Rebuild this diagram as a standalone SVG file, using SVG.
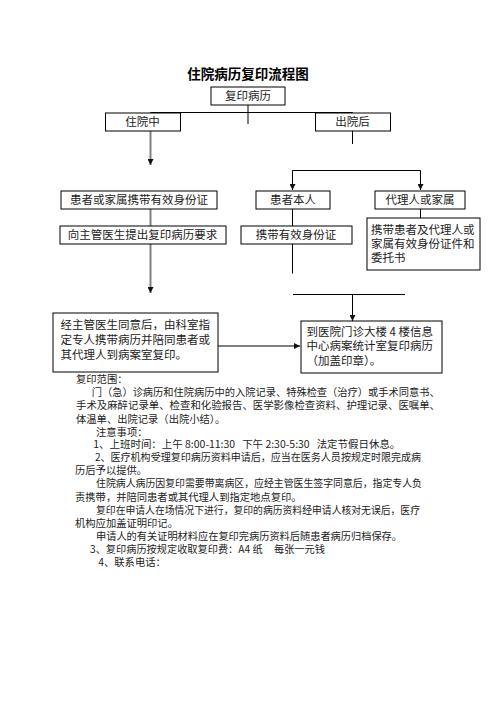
<svg xmlns="http://www.w3.org/2000/svg" width="496" height="702" viewBox="0 0 496 702">
  <defs>
    <marker id="ah" markerUnits="userSpaceOnUse" markerWidth="6" markerHeight="6" refX="6" refY="3" orient="auto">
      <path d="M0,0 L6,3 L0,6 z" fill="#111"/>
    </marker>
    <style>
      .box { fill: #fff; stroke: #000; stroke-width: 1; }
      .t { font-family: "Noto Sans CJK SC", "Liberation Sans", sans-serif; font-size: 11.5px; fill: #222; }
      .c { text-anchor: middle; }
      .body { font-family: "Noto Sans CJK SC", "Liberation Sans", sans-serif; font-size: 10.3px; fill: #222; }
      .ln { stroke: #000; stroke-width: 1; fill: none; }
      .gl { stroke: #808080; stroke-width: 2; fill: none; }
      .title { font-family: "Noto Sans CJK SC", "Liberation Sans", sans-serif; font-size: 13.5px; font-weight: bold; fill: #000; text-anchor: middle; }
    </style>
  </defs>
  <rect width="496" height="702" fill="#fff"/>

  <text class="title" x="248" y="79">住院病历复印流程图</text>

  <g id="connectors">
    <line class="ln" x1="248" y1="105" x2="248" y2="124"/>
    <line class="ln" x1="150" y1="112.5" x2="352.5" y2="112.5"/>
    <line class="gl" x1="150.5" y1="112.5" x2="150.5" y2="124" marker-end="url(#ah)"/>
    <line class="gl" x1="150.5" y1="131" x2="150.5" y2="165" marker-end="url(#ah)"/>
    <line class="ln" x1="352.5" y1="112.5" x2="352.5" y2="124" marker-end="url(#ah)"/>
    <line class="ln" x1="352.5" y1="131" x2="352.5" y2="144"/>
    <polyline class="ln" points="292.5,190 292.5,170.5 420.5,170.5 420.5,190"/>
    <line class="ln" x1="292.5" y1="170.5" x2="292.5" y2="190" marker-end="url(#ah)"/>
    <line class="ln" x1="420.5" y1="170.5" x2="420.5" y2="190" marker-end="url(#ah)"/>
    <line class="gl" x1="150.5" y1="209" x2="150.5" y2="293" marker-end="url(#ah)"/>
    <line class="ln" x1="292.5" y1="209" x2="292.5" y2="234" marker-end="url(#ah)"/>
    <line class="ln" x1="292.5" y1="234" x2="292.5" y2="273.5"/>
    <line class="ln" x1="420.5" y1="209" x2="420.5" y2="226" marker-end="url(#ah)"/>
    <line class="ln" x1="405.5" y1="250" x2="405.5" y2="263"/>
    <line class="ln" x1="293" y1="294.5" x2="405" y2="294.5"/>
    <line class="ln" x1="352.5" y1="294.5" x2="352.5" y2="321" marker-end="url(#ah)"/>
    <line class="gl" x1="218" y1="346" x2="300" y2="346" marker-end="url(#ah)"/>
  </g>

  <g id="n-copy">
    <rect class="box" x="211" y="87" width="74" height="18"/>
    <text class="t c" x="248" y="100.4">复印病历</text>
  </g>
  <g id="n-inpatient">
    <rect class="box" x="105.5" y="113" width="75" height="18"/>
    <text class="t c" x="142.5" y="126.4">住院中</text>
  </g>
  <g id="n-discharged">
    <rect class="box" x="315.5" y="113" width="75" height="18"/>
    <text class="t c" x="352.5" y="126.4">出院后</text>
  </g>
  <g id="n-carry-id">
    <rect class="box" x="61" y="191" width="156" height="18"/>
    <text class="t c" x="139" y="204.4">患者或家属携带有效身份证</text>
  </g>
  <g id="n-request">
    <rect class="box" x="60" y="226" width="166" height="18"/>
    <text class="t c" x="142.5" y="239.4">向主管医生提出复印病历要求</text>
  </g>
  <g id="n-self">
    <rect class="box" x="256" y="191" width="74" height="18"/>
    <text class="t c" x="293" y="204.4">患者本人</text>
  </g>
  <g id="n-self-id">
    <rect class="box" x="241" y="226" width="111" height="18"/>
    <text class="t c" x="296" y="239.4">携带有效身份证</text>
  </g>
  <g id="n-agent">
    <rect class="box" x="375" y="191" width="90" height="18"/>
    <text class="t c" x="420" y="204.4">代理人或家属</text>
  </g>
  <g id="n-agent-docs">
    <rect class="box" x="367" y="218" width="113" height="52"/>
    <text class="t" x="371" y="234.4">携带患者及代理人或</text>
    <text class="t" x="371" y="248.4">家属有效身份证件和</text>
    <text class="t" x="371" y="262.4">委托书</text>
  </g>
  <g id="n-doctor">
    <rect class="box" x="53" y="313" width="165" height="59"/>
    <text class="t" x="60.5" y="329">经主管医生同意后，由科室指</text>
    <text class="t" x="60.5" y="344">定专人携带病历并陪同患者或</text>
    <text class="t" x="60.5" y="358.5">其代理人到病案室复印。</text>
  </g>
  <g id="n-office">
    <rect class="box" x="301" y="321" width="141" height="52"/>
    <text class="t" x="306.5" y="336">到医院门诊大楼 4 楼信息</text>
    <text class="t" x="306.5" y="350.2">中心病案统计室复印病历</text>
    <text class="t" x="306.5" y="365.2">（加盖印章）。</text>
  </g>

  <g id="notes">
    <text class="body" x="76" y="383.3">复印范围：</text>
    <text class="body" x="91.7" y="396.4" textLength="348" lengthAdjust="spacingAndGlyphs">门（急）诊病历和住院病历中的入院记录、特殊检查（治疗）或手术同意书、</text>
    <text class="body" x="76" y="409.4" textLength="364" lengthAdjust="spacingAndGlyphs">手术及麻醉记录单、检查和化验报告、医学影像检查资料、护理记录、医嘱单、</text>
    <text class="body" x="76" y="422.5">体温单、出院记录（出院小结）。</text>
    <text class="body" x="96" y="435.5">注意事项：</text>
    <text class="body" x="93.3" y="447.8" textLength="307" lengthAdjust="spacingAndGlyphs" xml:space="preserve">1、上班时间：上午 8:00-11:30   下午 2:30-5:30   法定节假日休息。</text>
    <text class="body" x="95" y="460.8" textLength="326" lengthAdjust="spacingAndGlyphs">2、医疗机构受理复印病历资料申请后，应当在医务人员按规定时限完成病</text>
    <text class="body" x="75" y="473.9">历后予以提供。</text>
    <text class="body" x="96" y="487.3" textLength="326" lengthAdjust="spacingAndGlyphs">住院病人病历因复印需要带离病区，应经主管医生签字同意后，指定专人负</text>
    <text class="body" x="75" y="500.5">责携带，并陪同患者或其代理人到指定地点复印。</text>
    <text class="body" x="96" y="513.8" textLength="324" lengthAdjust="spacingAndGlyphs">复印在申请人在场情况下进行，复印的病历资料经申请人核对无误后，医疗</text>
    <text class="body" x="75" y="526.7">机构应加盖证明印记。</text>
    <text class="body" x="96" y="539.7" textLength="306" lengthAdjust="spacingAndGlyphs">申请人的有关证明材料应在复印完病历资料后随患者病历归档保存。</text>
    <text class="body" x="90" y="552.6" textLength="235" lengthAdjust="spacingAndGlyphs" xml:space="preserve">3、复印病历按规定收取复印费：A4 纸     每张一元钱</text>
    <text class="body" x="98.3" y="565.7">4、联系电话：</text>
  </g>
</svg>
